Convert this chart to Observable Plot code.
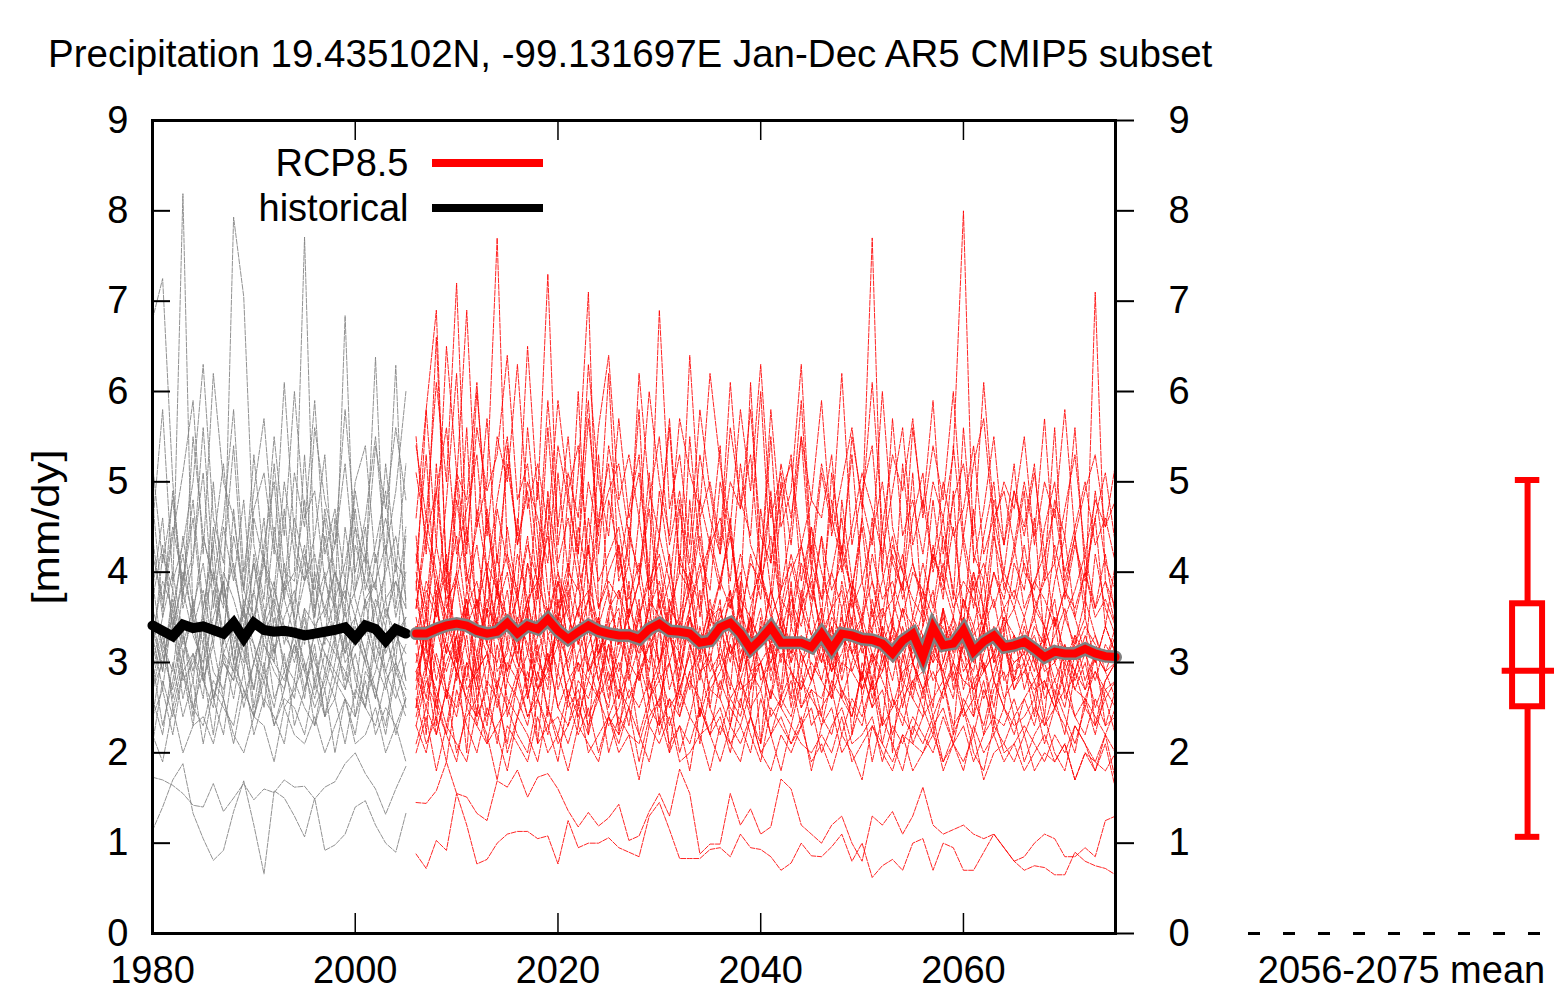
<!DOCTYPE html>
<html>
<head>
<meta charset="utf-8">
<script src="https://cdn.jsdelivr.net/npm/d3@7"></script>
<script src="https://cdn.jsdelivr.net/npm/@observablehq/plot@0.6"></script>
<style>
html, body { margin: 0; padding: 0; background: #fff; }
#wrap { position: relative; width: 1554px; height: 992px; overflow: hidden; font-family: "Liberation Sans", Arial, sans-serif; }
#main, #box { position: absolute; top: 0; }
#main { left: 0; }
#box { left: 1200px; }
#title { position: absolute; left: 48px; top: 34.5px; font-size: 38.5px; line-height: 1; white-space: nowrap; color: #000; z-index: 5; }
</style>
</head>
<body>
<div id="wrap"><div id="main"></div><div id="box"></div><div id="title"></div></div>
<script>
// ---------- text ----------
const chartTitle = "Precipitation 19.435102N, -99.131697E Jan-Dec AR5 CMIP5 subset";
const yLabel = "[mm/dy]";
const legendLabels = ["RCP8.5", "historical"];
const boxLabel = ["2056-2075 mean"];

// ---------- ticks ----------
const xTicks = [1980, 2000, 2020, 2040, 2060];
const yTicks = [0, 1, 2, 3, 4, 5, 6, 7, 8, 9];

// ---------- years ----------
const histYears = d3.range(1980, 2006);
const rcpYears = d3.range(2006, 2076);

// ---------- historical ensemble members (1980-2005) ----------
const hist01 = [6.8,7.25,5.0,3.6,4.1,5.6,4.0,3.6,7.93,7.05,4.3,3.7,5.2,4.0,3.9,4.8,3.5,4.4,3.6,6.84,3.8,4.5,3.2,4.1,6.29,3.6];
const hist02 = [3.1,4.2,3.8,8.19,3.4,2.9,4.5,3.7,3.3,3.0,4.2,3.6,3.1,3.8,4.0,7.71,3.9,3.2,4.6,3.3,3.5,4.0,6.38,3.7,3.0,4.4];
const hist03 = [4.8,3.6,4.4,5.1,5.9,4.2,6.2,5.0,4.6,3.8,5.3,4.1,5.5,4.4,6.0,4.6,4.9,3.9,4.3,5.8,4.5,4.1,5.4,4.7,5.6,4.8];
const hist04 = [2.4,3.1,2.7,3.3,2.9,3.5,2.6,3.0,2.8,3.6,2.5,3.2,2.9,2.7,3.4,3.0,2.6,3.1,2.8,3.3,2.9,2.5,3.4,2.8,3.0,2.7];
const hist05 = [3.5,2.9,3.8,3.2,3.6,4.1,3.3,3.9,3.0,3.7,3.4,4.2,3.1,3.5,3.8,3.2,4.0,3.6,3.3,3.9,3.5,3.1,3.7,3.4,4.1,3.3];
const hist06 = [2.9,3.4,2.5,3.0,3.7,2.8,3.2,2.6,3.5,3.1,2.7,3.3,3.6,2.9,2.6,3.4,3.0,2.7,3.2,2.8,3.5,3.1,2.6,3.3,2.9,3.2];
const hist07 = [4.2,3.7,4.5,3.9,4.8,3.6,4.3,5.2,4.0,3.5,4.6,4.1,3.8,5.0,4.2,3.9,4.4,5.3,3.7,4.1,4.7,3.8,4.3,4.9,3.6,4.5];
const hist08 = [2.6,2.2,3.0,2.4,2.8,2.1,2.7,2.5,2.3,2.9,2.2,2.6,2.4,2.1,2.8,2.5,2.3,2.7,2.0,2.6,2.4,2.8,2.2,2.5,2.3,2.6];
const hist09 = [3.8,4.6,3.3,4.0,3.5,4.4,3.9,3.2,4.7,3.6,4.1,3.4,4.5,3.7,3.3,4.2,3.8,4.6,3.5,3.1,4.3,3.9,3.6,4.0,4.4,3.7];
const hist10 = [3.3,2.7,3.6,2.9,3.1,2.6,3.8,3.0,2.8,3.4,3.2,2.5,3.5,3.0,2.8,3.6,2.7,3.3,3.1,2.9,2.6,3.7,3.0,2.7,3.2,3.5];
const hist11 = [5.2,4.1,4.8,3.7,5.5,4.4,3.9,4.6,5.8,4.0,4.9,5.7,4.3,3.8,5.1,4.5,5.9,4.2,4.7,3.9,5.0,5.4,4.1,4.6,4.0,5.2];
const hist12 = [2.1,2.8,2.4,2.9,2.3,3.2,2.6,2.2,3.0,2.7,2.4,2.9,2.5,3.1,2.3,2.7,3.2,2.4,2.8,2.6,2.2,2.9,2.7,2.3,3.0,2.5];
const hist13 = [3.0,3.5,4.0,3.3,2.8,3.6,4.3,3.1,3.4,2.9,3.8,3.2,3.0,4.1,3.5,2.9,3.3,3.9,3.6,3.0,3.2,3.7,3.9,3.1,3.4,2.8];
const hist14 = [4.5,5.8,3.9,4.3,5.0,6.3,4.6,4.1,5.4,3.8,4.7,5.1,4.2,6.1,4.4,3.9,5.6,4.8,4.3,5.2,4.0,4.6,5.5,4.2,4.9,6.0];
const hist15 = [3.6,3.2,2.9,3.8,3.3,3.0,3.5,3.9,3.2,3.6,3.0,3.4,3.7,3.3,3.1,3.6,3.4,2.9,3.5,3.8,3.2,3.4,3.0,3.6,3.3,3.1];
const hist16 = [2.7,3.0,3.4,2.6,3.1,2.8,2.5,3.3,2.9,2.6,3.0,2.8,2.3,2.7,3.2,2.9,2.5,2.8,3.3,2.7,3.1,2.6,2.9,3.4,2.7,2.4];
const hist17 = [1.73,1.70,1.64,1.55,1.42,1.40,1.66,1.35,1.50,1.66,1.48,1.60,1.56,1.70,1.62,1.63,1.49,1.62,1.68,1.88,2.00,1.77,1.60,1.32,1.60,1.85];
const hist18 = [1.14,1.40,1.70,1.88,1.33,1.05,0.81,0.92,1.35,1.69,1.20,0.66,1.58,1.50,1.30,1.07,1.50,0.92,0.98,1.10,1.40,1.47,1.20,1.00,0.90,1.33];
const hist19 = [2.2,1.9,2.5,2.0,2.3,2.4,2.1,2.6,2.2,2.0,2.4,2.3,1.9,2.5,2.2,2.1,2.4,2.0,2.3,2.6,2.1,2.2,2.5,2.0,2.3,1.9];
const hist20 = [3.9,3.1,3.4,4.4,3.6,3.2,5.0,3.7,4.1,3.4,3.8,4.6,3.3,3.9,3.5,5.3,3.6,4.0,3.2,4.5,3.7,3.3,4.2,3.5,3.9,3.4];
const hist21 = [2.8,3.3,2.6,3.1,2.4,3.5,2.9,2.7,3.2,2.5,3.0,3.4,2.6,2.9,3.3,2.7,3.1,2.4,3.0,3.6,2.8,2.5,3.2,2.9,2.6,3.0];
const hist22 = [3.7,4.3,3.4,3.9,4.6,3.5,4.0,3.3,4.4,3.8,3.5,4.1,3.6,4.7,3.4,3.9,4.2,3.5,4.0,3.7,4.5,3.6,3.9,4.3,3.5,4.0];
const hist23 = [3.4,2.9,3.7,3.1,3.5,2.8,3.3,3.9,3.0,3.6,3.2,2.9,3.8,3.4,3.0,3.5,2.8,3.3,3.7,3.1,3.4,3.0,3.6,2.9,3.3,3.5];
const hist24 = [3.0,2.3,2.8,3.4,2.5,2.9,2.2,3.1,2.6,3.3,2.4,2.8,3.2,2.5,2.7,3.0,2.3,2.9,2.6,3.3,2.4,3.1,2.7,2.2,2.9,2.6];
const hist25 = [4.4,3.5,4.9,3.8,4.2,5.1,3.6,4.5,3.9,4.8,3.4,4.3,5.0,3.7,4.6,4.1,3.5,4.7,4.0,3.6,4.9,4.2,3.8,5.2,4.1,3.9];
const hist26 = [2.7,3.2,3.5,2.8,3.0,3.4,2.6,3.1,2.9,3.3,2.7,3.5,3.0,2.8,3.2,2.6,3.4,3.1,2.9,2.7,3.3,3.0,2.6,3.2,3.4,2.8];
const hist27 = [3.3,3.9,3.6,4.2,3.4,3.8,3.2,4.0,3.7,3.3,4.1,3.5,3.9,3.2,3.7,4.3,3.4,3.6,4.0,3.5,3.8,4.2,3.3,3.7,3.9,3.6];
const hist28 = [2.4,2.7,2.2,2.9,2.5,2.3,2.8,2.6,2.1,2.7,2.4,3.0,2.3,2.6,2.5,2.2,2.8,2.4,2.6,2.1,2.7,2.5,2.3,2.8,2.2,2.6];

// ---------- RCP8.5 ensemble members (2006-2075) ----------
const rcp01 = [4.1,5.3,3.6,4.8,6.2,3.9,4.5,5.0,7.7,4.2, 3.8,5.6,4.4,3.5,5.1,4.0,6.0,3.7,4.6,5.2, 3.9,4.3,5.8,3.6,4.9,4.1,3.4,5.5,4.2,3.8, 5.0,4.4,3.7,6.1,4.0,3.6,4.7,5.3,3.9,4.5, 3.5,5.1,4.2,3.8,4.6,7.7,4.0,3.4,5.2,4.1, 3.7,4.8,3.9,5.4,4.3,3.6,4.4,5.0,3.8,4.2, 4.9,3.5,4.0,5.6,3.7,4.3,3.9,4.6,3.4,4.1];
const rcp02 = [5.4,4.6,6.1,5.0,7.2,4.3,5.6,4.9,5.3,6.4, 4.8,5.2,4.1,5.9,4.5,5.5,4.2,6.3,5.0,4.4, 5.7,4.6,5.1,4.0,6.9,4.7,5.3,4.3,5.8,4.9, 4.2,5.6,4.8,4.4,6.0,4.1,5.2,4.6,5.5,4.0, 5.1,4.5,6.2,4.3,4.9,5.4,4.0,5.7,4.4,4.8, 4.2,5.0,4.6,5.3,8.0,4.1,4.7,5.5,4.3,4.9, 4.5,5.2,3.9,4.8,4.4,5.6,4.0,4.6,5.1,4.3];
const rcp03 = [3.6,4.4,3.9,3.3,4.8,4.0,3.5,4.6,3.8,4.2, 3.4,4.1,3.7,4.5,3.2,3.9,5.1,7.1,3.6,4.0, 4.3,3.5,3.9,4.7,3.6,3.3,4.2,3.8,4.6,3.4, 3.9,4.4,3.6,3.2,4.1,4.8,3.7,3.5,4.3,3.8, 3.4,4.0,4.6,3.6,3.9,3.3,4.5,3.7,4.2,3.5, 4.1,3.6,4.4,3.8,3.4,4.7,3.5,4.0,3.7,4.3, 3.6,3.9,4.2,3.4,3.8,4.4,3.5,7.1,3.9,3.6];
const rcp04 = [3.2,3.8,3.5,4.1,3.0,3.6,3.9,3.3,4.2,3.4, 3.7,3.1,3.9,3.5,4.0,3.2,3.6,3.8,3.1,3.5, 4.3,3.4,3.0,3.7,3.5,3.9,3.2,3.6,4.1,3.3, 3.5,3.8,3.1,3.4,3.9,3.6,3.0,3.7,3.4,4.0, 3.2,3.6,3.8,3.1,3.5,3.9,3.3,3.0,3.6,3.4, 3.8,3.2,3.5,3.1,3.7,3.4,3.9,3.0,3.5,3.3, 3.1,3.6,3.4,3.0,3.5,3.2,3.7,3.3,3.0,3.4];
const rcp05 = [3.5,2.9,3.6,3.1,3.4,2.8,3.7,3.2,3.0,3.5, 3.3,2.7,3.8,3.0,3.4,3.6,2.9,3.2,3.5,2.8, 3.1,3.6,3.3,2.9,3.7,3.0,3.4,3.2,2.8,3.5, 3.6,3.1,3.3,2.7,3.4,3.0,3.5,3.2,2.9,3.6, 3.0,3.4,2.8,3.3,3.5,3.1,2.9,3.4,3.2,2.7, 3.3,3.0,3.6,2.8,3.2,3.4,2.9,3.1,3.5,2.8, 3.2,2.9,3.4,3.0,2.7,3.3,3.1,2.8,3.2,3.0];
const rcp06 = [2.8,3.4,3.0,2.6,3.3,3.7,2.9,3.1,2.7,3.5, 3.0,2.8,3.3,3.6,2.7,3.1,3.4,2.9,3.2,2.6, 3.5,3.0,2.8,3.2,3.4,2.7,3.1,3.5,2.9,3.0, 2.7,3.3,3.6,2.9,3.0,3.2,2.6,3.4,3.1,2.8, 3.3,2.9,3.1,3.5,2.7,3.0,3.2,2.8,3.4,3.0, 2.6,3.2,2.9,3.3,3.0,2.7,3.1,3.4,2.8,3.0, 3.1,2.8,3.0,2.6,3.2,2.9,2.7,3.1,2.9,2.6];
const rcp07 = [2.5,3.6,2.3,3.9,2.8,3.3,2.4,4.0,2.9,3.1, 3.8,2.6,3.2,2.4,3.7,2.9,3.4,2.2,3.5,3.0, 2.6,3.9,2.8,3.3,2.3,3.6,2.7,3.1,3.8,2.5, 3.2,2.7,3.9,2.4,3.5,2.8,3.3,2.6,3.7,2.9, 2.4,3.4,2.9,3.8,2.6,3.1,2.3,3.5,2.8,3.3, 3.0,2.5,3.6,2.7,3.2,2.4,3.4,2.8,2.5,3.3, 2.7,3.1,2.4,3.5,2.6,2.9,3.2,2.3,2.8,3.0];
const rcp08 = [2.9,2.5,3.1,2.7,2.4,3.0,2.8,2.3,3.2,2.6, 2.4,2.9,2.6,3.1,2.5,2.8,3.0,2.4,2.7,3.2, 2.8,2.3,3.0,2.6,2.9,2.5,2.7,3.1,2.4,2.8, 3.0,2.6,2.4,2.9,2.7,3.2,2.5,2.8,2.3,2.7, 2.6,3.0,2.7,2.4,2.9,2.5,3.1,2.6,2.3,2.8, 2.9,2.4,2.7,3.0,2.5,2.8,2.2,2.7,2.9,2.4, 2.6,2.3,2.8,2.5,2.9,2.4,2.6,2.2,2.7,2.5];
const rcp09 = [2.3,2.8,2.5,2.2,2.9,2.6,2.4,2.7,2.1,2.8, 2.6,2.3,2.9,2.5,2.2,2.7,2.4,2.8,2.6,2.3, 2.5,2.9,2.2,2.6,2.8,2.3,2.7,2.4,2.9,2.5, 2.2,2.6,2.8,2.4,2.1,2.7,2.5,2.3,2.8,2.6, 2.4,2.2,2.7,2.5,2.3,2.8,2.1,2.6,2.4,2.2, 2.7,2.3,2.5,2.1,2.6,2.4,2.8,2.2,2.5,2.3, 2.4,2.6,2.1,2.5,2.3,2.0,2.6,2.4,2.2,2.5];
const rcp10 = [2.6,2.1,2.4,1.9,2.7,2.3,2.0,2.5,2.2,1.8, 2.4,2.7,2.1,2.3,1.9,2.6,2.2,2.5,2.0,2.4, 2.2,2.5,1.9,2.4,2.6,2.1,2.3,1.8,2.5,2.2, 2.4,2.0,2.6,2.2,1.9,2.5,2.3,2.1,2.4,1.8, 2.3,2.5,2.0,2.2,2.6,1.9,2.4,2.1,1.8,2.3, 2.1,2.4,1.9,2.2,2.5,2.0,1.8,2.3,2.1,2.4, 1.9,2.2,2.4,2.0,1.8,2.3,2.1,1.9,2.2,1.7];
const rcp11 = [2.0,2.4,1.8,2.3,2.1,1.9,2.5,2.2,1.7,2.3, 2.1,1.9,2.4,2.0,2.2,1.8,2.3,2.1,1.9,2.4, 2.0,2.2,1.7,2.3,2.1,2.4,1.9,2.0,2.2,1.8, 2.3,2.1,1.9,2.4,2.0,1.8,2.2,2.0,2.3,1.9, 2.1,1.8,2.2,2.0,1.7,2.3,2.1,1.9,2.2,1.8, 2.0,2.3,1.8,2.1,1.9,2.2,1.7,2.0,2.1,1.9, 2.2,1.8,2.0,1.9,2.1,1.7,2.0,1.8,2.1,1.6];
const rcp12 = [4.4,3.1,5.2,3.6,4.0,5.6,3.3,4.7,3.9,3.2, 4.6,3.5,5.0,3.8,3.3,4.9,4.1,3.4,5.3,3.7, 3.2,4.5,3.9,5.1,3.6,4.2,3.0,4.8,3.5,4.3, 5.4,3.6,4.0,3.3,4.7,3.8,5.0,3.4,4.1,3.7, 4.4,3.1,4.8,3.9,3.5,4.6,3.2,4.2,3.8,5.1, 3.4,4.3,3.7,4.9,3.2,4.0,3.6,4.5,3.3,4.1, 3.8,4.6,3.2,3.9,4.4,3.5,3.1,4.2,3.6,3.3];
const rcp13 = [3.8,5.8,6.9,3.9,5.1,4.2,6.0,4.6,3.7,5.4, 4.3,4.9,3.8,5.6,4.1,4.6,3.9,5.0,4.4,6.2, 4.0,4.7,5.3,3.8,4.4,5.7,4.1,3.9,4.8,4.3, 4.6,3.9,5.2,4.3,4.0,5.5,3.8,4.5,5.9,4.1, 3.7,4.8,4.2,5.3,3.9,4.4,5.0,4.1,3.8,4.6, 5.1,4.0,4.6,3.7,5.6,4.2,3.9,4.8,4.3,5.2, 4.0,3.8,4.5,5.0,3.9,4.4,3.7,4.9,4.1,3.8];
const rcp14 = [3.0,3.5,2.8,3.3,3.9,3.1,2.7,3.6,3.4,2.9, 3.2,3.7,3.0,2.8,3.5,3.3,3.9,2.9,3.1,3.4, 3.6,2.8,3.2,3.0,3.8,3.3,2.9,3.5,3.1,3.7, 3.0,3.4,2.8,3.2,3.6,2.9,3.3,3.8,3.0,3.2, 3.5,2.9,3.3,3.1,2.8,3.6,3.0,3.4,2.7,3.2, 3.0,3.5,2.8,3.3,3.1,2.9,3.6,3.0,3.2,2.8, 3.4,3.0,2.7,3.2,3.0,3.3,2.8,3.1,2.9,3.2];
const rcp15 = [3.4,2.2,3.8,2.6,3.1,2.0,3.5,2.7,3.9,2.4, 2.8,3.6,2.1,3.3,2.9,3.8,2.3,3.0,2.6,3.5, 2.2,3.1,3.7,2.5,3.4,2.0,2.9,3.6,2.4,3.2, 3.7,2.3,3.0,3.5,2.1,3.3,2.7,3.9,2.5,2.8, 3.2,2.6,3.6,2.2,3.0,2.7,3.4,2.0,3.1,2.6, 2.4,3.3,2.8,2.2,3.5,2.6,3.0,2.3,3.2,2.7, 3.0,2.4,3.3,2.6,2.2,2.9,2.5,3.1,2.3,2.7];
const rcp16 = [4.6,5.8,4.3,6.5,5.1,4.8,6.1,4.4,5.5,5.0, 6.3,4.7,5.2,4.5,5.9,4.9,5.4,4.2,5.6,6.4, 4.8,5.3,4.6,6.0,5.0,4.4,5.7,5.1,4.7,6.2, 5.2,4.5,5.8,4.9,6.3,4.6,5.1,4.3,5.5,4.8, 5.9,4.4,5.0,5.6,4.7,6.1,4.5,5.3,4.9,5.7, 4.6,5.4,4.8,6.0,4.4,5.2,5.7,4.5,5.0,4.7, 5.5,4.3,5.0,4.6,5.8,4.4,4.9,5.3,4.5,4.8];
const rcp17 = [1.45,1.44,1.58,1.9,1.55,1.51,1.33,1.25,1.69,1.62, 1.81,1.51,1.73,1.77,1.6,1.36,1.18,1.34,1.19,1.28, 1.43,1.03,1.08,1.35,1.55,1.3,1.82,1.55,0.88,0.99, 0.99,1.55,1.2,1.38,1.1,1.18,1.71,1.6,1.2,1.1, 1.0,1.2,1.3,1.0,0.8,1.3,1.2,1.35,1.1,1.3, 1.62,1.2,1.1,1.15,1.2,1.1,1.05,1.1,0.95,0.8, 0.85,1.0,1.1,1.05,0.85,0.85,0.95,0.85,1.25,1.3];
const rcp18 = [0.88,0.72,1.03,0.92,1.55,1.2,0.77,0.82,1.0,1.1, 1.13,1.13,1.05,1.08,0.77,1.25,0.95,1.0,1.0,1.06, 0.95,0.9,0.85,1.3,1.45,1.15,0.83,0.83,0.83,0.93, 0.95,0.85,1.1,0.95,0.93,0.85,0.7,0.78,1.0,0.86, 0.85,0.96,1.1,0.8,1.0,0.62,0.75,0.82,0.7,1.0, 1.05,0.7,1.0,0.95,0.7,0.7,0.9,1.1,0.95,0.8, 0.7,0.75,0.73,0.65,0.65,0.9,0.8,0.75,0.72,0.65];
const rcp19 = [4.2,3.6,4.9,3.8,4.4,3.5,4.7,4.0,3.4,4.5, 3.7,4.3,3.9,4.8,3.6,4.1,3.5,4.6,3.9,4.2, 4.5,3.7,4.1,3.4,4.4,3.9,4.8,3.6,4.0,4.3, 3.8,4.6,3.5,4.1,3.9,4.4,3.6,4.2,3.7,4.5, 4.0,3.6,4.3,3.8,4.5,3.5,3.9,4.4,3.7,4.1, 3.6,4.2,3.9,3.5,4.4,3.8,4.1,3.6,4.0,3.7, 4.3,3.6,3.9,4.1,3.5,3.8,4.2,3.6,3.9,3.4];
const rcp20 = [3.7,3.2,3.9,3.5,3.0,3.8,3.4,3.1,3.6,4.0, 3.3,3.7,3.1,3.5,3.9,3.2,3.6,3.0,3.4,3.8, 3.2,3.5,3.9,3.3,3.0,3.6,3.4,3.8,3.1,3.5, 3.3,3.7,3.0,3.5,3.2,3.8,3.4,3.1,3.6,3.3, 3.0,3.5,3.3,3.7,3.1,3.4,3.6,3.2,3.0,3.5, 3.3,3.1,3.6,3.2,3.5,3.0,3.4,3.7,3.1,3.3, 3.0,3.4,3.2,3.5,3.1,2.9,3.3,3.0,3.4,3.1];
const rcp21 = [5.5,4.2,6.6,4.0,5.0,6.9,4.5,5.7,4.1,5.2, 4.4,6.5,4.8,7.3,4.3,5.1,4.6,5.9,4.2,5.4, 4.7,4.1,6.2,4.9,4.4,5.6,4.0,6.4,4.6,5.0, 4.3,6.1,4.7,5.3,4.0,5.8,4.5,4.9,6.3,4.2, 5.2,4.6,4.1,5.5,4.8,4.3,6.0,4.5,4.0,5.6, 4.7,5.9,4.2,4.8,5.2,4.4,6.1,4.6,4.9,4.3, 5.0,4.4,5.7,4.1,4.7,5.3,4.2,4.8,4.5,5.2];
const rcp22 = [2.5,3.0,2.7,2.3,2.9,2.6,3.1,2.4,2.8,2.5, 2.9,2.4,2.7,3.1,2.5,2.3,2.8,2.6,3.0,2.4, 2.7,2.5,2.9,2.3,2.6,3.0,2.4,2.8,2.6,2.2, 2.8,2.5,2.3,2.7,3.0,2.4,2.6,2.9,2.5,2.7, 2.3,2.8,2.6,2.4,2.9,2.5,2.7,2.2,2.6,2.8, 2.5,2.2,2.7,2.9,2.4,2.6,2.3,2.8,2.5,2.2, 2.6,2.8,2.3,2.5,2.7,2.4,2.2,2.6,2.3,2.4];
const rcp23 = [5.1,4.4,4.9,5.6,4.2,4.7,5.3,4.0,4.8,5.5, 4.3,5.0,4.6,4.1,5.4,4.8,4.2,5.7,4.5,4.9, 5.2,4.4,4.0,4.8,5.5,4.3,4.9,4.1,5.3,4.6, 4.2,5.0,4.7,5.8,4.4,4.1,4.9,5.2,4.3,4.8, 4.6,5.3,4.0,4.5,5.1,4.7,4.2,4.9,5.6,4.3, 4.8,4.1,5.0,4.4,4.7,5.4,4.2,4.6,4.0,4.9, 4.4,5.1,4.2,4.7,4.0,4.5,5.0,4.3,4.6,4.1];
const rcp24 = [3.1,2.6,3.4,2.9,3.3,2.5,3.0,3.6,2.7,3.2, 2.9,3.5,2.7,3.0,3.3,2.6,3.1,3.4,2.8,2.5, 3.3,2.9,3.5,2.7,3.0,3.4,2.6,3.2,2.9,3.1, 2.6,3.2,2.9,3.5,2.8,3.0,3.3,2.5,3.1,2.8, 3.1,2.7,3.4,2.9,3.2,2.6,3.0,3.3,2.8,2.6, 3.2,2.8,3.0,3.4,2.7,3.1,2.6,2.9,3.3,2.7, 2.9,3.2,2.6,2.8,3.1,2.7,3.0,2.5,2.8,3.0];
const rcp25 = [3.3,3.9,3.6,3.1,4.0,3.4,3.7,3.2,3.8,3.5, 3.1,3.6,4.1,3.3,3.5,3.9,3.2,3.7,3.4,3.0, 3.8,3.4,3.1,3.6,3.9,3.3,3.5,4.0,3.2,3.6, 3.4,3.0,3.7,3.5,3.2,3.8,3.4,3.1,3.6,3.9, 3.3,3.6,3.2,3.8,3.4,3.0,3.5,3.7,3.3,3.1, 3.6,3.2,3.4,3.0,3.7,3.3,3.5,3.1,3.4,3.6, 3.2,3.5,3.0,3.3,3.6,3.1,3.4,3.2,3.0,3.3];
const rcp26 = [2.7,3.4,2.5,3.2,2.9,3.6,2.6,3.0,3.5,2.8, 3.3,2.6,3.1,2.7,3.5,2.9,2.5,3.4,2.8,3.2, 2.6,3.0,3.6,2.8,2.5,3.3,3.1,2.7,3.4,2.9, 3.1,2.8,2.5,3.3,3.0,2.6,3.5,2.9,2.7,3.2, 2.8,3.3,2.6,3.0,3.4,2.7,2.9,3.2,2.5,3.0, 2.7,3.1,2.9,2.6,3.3,2.8,3.0,2.5,3.2,2.9, 3.0,2.6,3.2,2.8,2.5,3.1,2.7,2.9,2.6,2.8];
const rcp27 = [2.4,2.9,2.2,2.7,2.5,3.0,2.3,2.8,2.6,2.1, 2.8,2.4,2.6,2.2,2.9,2.5,2.7,2.3,2.6,2.9, 2.3,2.7,2.5,2.8,2.2,2.6,2.4,2.9,2.1,2.7, 2.6,2.3,2.8,2.5,2.7,2.2,2.6,2.4,2.9,2.3, 2.5,2.7,2.2,2.6,2.4,2.8,2.3,2.5,2.7,2.1, 2.4,2.6,2.8,2.3,2.5,2.2,2.7,2.4,2.3,2.6, 2.2,2.5,2.3,2.7,2.4,2.1,2.5,2.3,2.6,2.2];
const rcp28 = [3.6,4.6,4.0,3.4,5.0,3.8,4.3,3.5,4.7,4.1, 3.7,4.4,3.3,4.9,4.0,3.6,4.5,3.9,3.4,4.8, 4.2,3.5,4.6,3.8,4.1,3.3,4.7,4.0,3.6,4.4, 3.9,4.5,3.4,4.2,3.7,4.9,3.5,4.0,4.3,3.6, 4.4,3.8,4.1,3.4,4.6,3.9,3.5,4.3,4.0,3.7, 3.5,4.2,3.8,4.5,3.6,4.0,3.3,4.4,3.9,3.6, 4.1,3.7,3.4,4.3,3.8,3.5,4.0,3.6,4.2,3.5];
const rcp29 = [3.4,3.0,3.6,3.2,2.9,3.5,3.1,3.7,3.3,2.9, 3.5,3.2,2.8,3.6,3.3,3.0,3.4,3.7,3.1,3.3, 2.9,3.4,3.2,3.6,3.0,3.3,2.8,3.5,3.2,3.0, 3.6,3.1,3.3,2.9,3.4,3.2,3.6,3.0,3.3,3.1, 3.2,2.9,3.5,3.1,3.3,2.8,3.4,3.1,3.6,3.0, 3.3,3.0,3.2,3.5,2.9,3.1,3.4,2.8,3.2,3.0, 3.1,3.3,2.9,3.0,3.2,2.8,3.1,3.3,2.9,3.0];
const rcp30 = [2.1,2.5,2.2,2.7,2.0,2.4,2.6,2.1,2.3,2.5, 2.2,2.0,2.6,2.3,2.4,2.1,2.5,2.2,2.7,2.0, 2.4,2.2,2.1,2.5,2.3,2.6,2.0,2.4,2.2,2.3, 2.5,2.1,2.3,2.0,2.6,2.2,2.4,2.1,2.3,2.5, 2.0,2.3,2.5,2.1,2.2,2.4,1.9,2.3,2.1,2.4, 2.2,2.0,2.4,2.1,2.3,1.9,2.2,2.4,2.0,2.1, 2.3,2.1,1.9,2.2,2.0,2.3,2.1,1.8,2.2,2.0];
const rcp31 = [4.0,3.5,4.3,3.7,3.9,4.5,3.6,4.1,3.8,3.4, 4.2,3.7,3.9,4.4,3.5,4.0,3.8,4.3,3.6,3.9, 3.7,4.1,3.5,3.9,4.2,3.6,4.0,3.8,4.4,3.5, 3.9,3.6,4.2,3.7,4.0,3.5,3.8,4.1,3.6,4.3, 3.7,4.0,3.6,3.9,3.4,4.2,3.7,3.9,3.5,4.0, 3.8,3.5,4.1,3.6,3.9,3.7,3.4,4.0,3.6,3.8, 3.5,3.9,3.7,3.4,3.8,3.6,4.0,3.5,3.7,3.4];
const rcp32 = [2.9,3.2,2.6,3.0,3.3,2.7,2.9,3.1,2.5,3.0, 2.8,3.1,2.7,2.9,3.2,2.6,3.0,2.8,3.3,2.7, 3.0,2.6,2.9,3.2,2.8,3.0,2.5,2.9,3.1,2.7, 2.9,3.2,2.7,2.8,3.0,2.6,3.1,2.9,2.7,3.0, 2.8,2.6,3.0,2.9,2.7,3.1,2.8,2.5,2.9,3.0, 2.7,2.9,2.6,3.0,2.8,2.7,2.9,3.1,2.6,2.8, 2.9,2.7,2.8,2.5,3.0,2.7,2.6,2.9,2.7,2.8];
const rcp33 = [3.9,2.9,3.6,4.2,3.1,3.7,2.8,4.0,3.3,3.8, 3.0,4.1,3.4,2.9,3.9,3.5,3.2,4.3,3.0,3.6, 3.8,3.1,3.5,4.0,2.9,3.7,3.3,3.9,3.0,3.5, 3.2,3.8,2.9,3.6,4.1,3.1,3.4,3.0,3.8,3.3, 3.6,3.0,3.9,3.3,2.8,3.7,3.2,3.5,3.9,3.0, 3.4,3.8,3.0,3.5,3.2,3.9,2.9,3.3,3.6,3.1, 3.5,3.0,3.3,3.7,2.9,3.2,3.5,3.0,3.4,3.1];
const rcp34 = [2.3,2.0,2.6,2.2,1.9,2.5,2.3,2.1,2.7,2.0, 2.4,2.2,1.9,2.5,2.1,2.3,2.6,2.0,2.2,2.4, 2.1,2.5,2.2,1.9,2.4,2.0,2.3,2.1,2.5,2.2, 1.9,2.3,2.1,2.4,2.0,2.2,1.8,2.3,2.1,2.0, 2.2,2.0,2.4,1.9,2.1,2.3,2.0,1.8,2.2,2.1, 2.0,2.2,1.9,2.1,1.8,2.3,2.0,2.2,1.9,2.1, 1.8,2.0,2.2,1.9,2.1,1.7,2.0,1.9,1.8,2.0];

// ---------- ensemble means ----------
const histMean = [3.41,3.35,3.29,3.42,3.38,3.40,3.36,3.32,3.44,3.27,3.44,3.36,3.34,3.35,3.33,3.30,3.32,3.34,3.36,3.39,3.27,3.41,3.37,3.24,3.37,3.32];
const rcpMean = [3.32,3.32,3.37,3.41,3.43,3.41,3.35,3.32,3.34,3.44, 3.32,3.41,3.37,3.48,3.35,3.26,3.34,3.41,3.35,3.32, 3.30,3.30,3.26,3.37,3.43,3.35,3.34,3.32,3.22,3.24, 3.39,3.44,3.32,3.15,3.26,3.39,3.22,3.22,3.22,3.17, 3.32,3.15,3.32,3.30,3.26,3.25,3.21,3.10,3.24,3.32, 3.06,3.39,3.19,3.21,3.36,3.12,3.23,3.30,3.17,3.19, 3.23,3.15,3.06,3.12,3.10,3.10,3.15,3.10,3.07,3.06];

// ---------- 2056-2075 mean spread (box plot) ----------
const boxStats = [{min: 1.07, q1: 2.51, median: 2.91, q3: 3.65, max: 5.02}];

// ---------- build tables ----------
const histMembers = [hist01,hist02,hist03,hist04,hist05,hist06,hist07,hist08,hist09,hist10,hist11,hist12,hist13,hist14,hist15,hist16,hist17,hist18,hist19,hist20,hist21,hist22,hist23,hist24,hist25,hist26,hist27,hist28];
const rcpMembers = [rcp01,rcp02,rcp03,rcp04,rcp05,rcp06,rcp07,rcp08,rcp09,rcp10,rcp11,rcp12,rcp13,rcp14,rcp15,rcp16,rcp17,rcp18,rcp19,rcp20,rcp21,rcp22,rcp23,rcp24,rcp25,rcp26,rcp27,rcp28,rcp29,rcp30,rcp31,rcp32,rcp33,rcp34];
const toRows = (members, years) => members.flatMap((vals, m) =>
  vals.slice(0, years.length).map((v, i) => ({member: m, year: years[i], value: v})));
const histRows = toRows(histMembers, histYears);
const rcpRows = toRows(rcpMembers, rcpYears);
const histMeanRows = toRows([histMean], histYears);
const rcpMeanRows = toRows([rcpMean], rcpYears);

// ---------- style ----------
const FONT = "Liberation Sans, Arial, Helvetica, sans-serif";
const FS = 38;
const RED = "#ff0000";
const GREY = "#808080";

document.getElementById("title").textContent = chartTitle;

// ---------- main chart ----------
const W = 1200, H = 992, ML = 152, MR = 85, MT = 120, MB = 59;
const innerW = W - ML - MR, innerH = H - MT - MB;

const main = Plot.plot({
  width: W, height: H,
  marginLeft: ML, marginRight: MR, marginTop: MT, marginBottom: MB,
  style: {fontFamily: FONT, fontSize: FS + "px", background: "transparent", color: "black", overflow: "visible"},
  x: {domain: [1980, 2075], label: null},
  y: {domain: [0, 9], label: null},
  marks: [
    Plot.line(histRows, {x: "year", y: "value", z: "member", stroke: GREY, strokeWidth: 0.9, strokeOpacity: 0.95, strokeDasharray: "5,1.5"}),
    Plot.line(rcpRows, {x: "year", y: "value", z: "member", stroke: RED, strokeWidth: 0.9, strokeOpacity: 0.95, strokeDasharray: "5,1.5"}),
    Plot.line(histMeanRows, {x: "year", y: "value", stroke: "black", strokeWidth: 10, strokeLinejoin: "miter", strokeMiterlimit: 3}),
    Plot.line(rcpMeanRows, {x: "year", y: "value", stroke: GREY, strokeWidth: 13, strokeLinejoin: "miter", strokeMiterlimit: 3}),
    Plot.line(rcpMeanRows, {x: "year", y: "value", stroke: RED, strokeWidth: 8, strokeLinejoin: "miter", strokeMiterlimit: 3}),
    Plot.frame({stroke: "black", strokeWidth: 3}),
    // inward ticks
    Plot.tickY(yTicks, {y: d => d, stroke: "black", strokeWidth: 2, insetRight: innerW - 18}),
    Plot.tickX(xTicks, {x: d => d, stroke: "black", strokeWidth: 1.5, insetTop: innerH - 20}),
    Plot.tickX(xTicks, {x: d => d, stroke: "black", strokeWidth: 1.5, insetBottom: innerH - 20}),
    // axes
    Plot.axisY({anchor: "left", ticks: yTicks, tickSize: 0, tickPadding: 24, fontSize: FS, tickFormat: d => String(d), label: null}),
    Plot.axisY({anchor: "right", ticks: yTicks, tickSize: 18, tickPadding: 35, fontSize: FS, tickFormat: d => String(d), label: null, strokeWidth: 2}),
    Plot.axisX({anchor: "bottom", ticks: xTicks, tickSize: 0, tickPadding: 23, fontSize: FS, tickFormat: d => String(d), label: null}),
    // y label
    Plot.text([yLabel], {text: d => d, frameAnchor: "left", dx: -106, rotate: -90, fontSize: 39, textAnchor: "middle", lineAnchor: "middle"}),
    // legend labels
    Plot.text([legendLabels[0]], {text: d => d, frameAnchor: "top-left", dx: 256, dy: 43, textAnchor: "end", lineAnchor: "middle", fontSize: FS}),
    Plot.text([legendLabels[1]], {text: d => d, frameAnchor: "top-left", dx: 256, dy: 88, textAnchor: "end", lineAnchor: "middle", fontSize: FS})
  ]
});
const svgMain = d3.select(main);
// stretch the rotated unit label to the reference length
svgMain.selectAll("text").filter(function () { return this.textContent === yLabel; })
  .attr("textLength", 155).attr("lengthAdjust", "spacingAndGlyphs");
// legend swatches
const legendColors = [RED, "black"];
legendColors.forEach((c, i) => {
  svgMain.append("line")
    .attr("x1", ML + 280).attr("x2", ML + 391)
    .attr("y1", MT + 43 + i * 45).attr("y2", MT + 43 + i * 45)
    .attr("stroke", c).attr("stroke-width", 8);
});
document.getElementById("main").appendChild(main);

// ---------- box plot panel ----------
const BW = 354, BML = 48;
const boxCenter = 0.912, boxHalf = 0.049, capHalf = 0.04, medLeft = 0.083;
const box = Plot.plot({
  width: BW, height: H,
  marginLeft: BML, marginRight: 0, marginTop: MT, marginBottom: MB,
  style: {fontFamily: FONT, fontSize: FS + "px", background: "transparent", color: "black", overflow: "visible"},
  x: {domain: [0, 1], axis: null},
  y: {domain: [0, 9], axis: null},
  marks: [
    Plot.ruleY([0], {stroke: "black", strokeWidth: 3, strokeDasharray: "12,23"}),
    Plot.ruleX(boxStats, {x: () => boxCenter, y1: "min", y2: "max", stroke: RED, strokeWidth: 6}),
    Plot.rect(boxStats, {x1: () => boxCenter - boxHalf, x2: () => boxCenter + boxHalf, y1: "q1", y2: "q3", fill: "white", stroke: RED, strokeWidth: 6}),
    Plot.ruleY(boxStats, {y: "min", x1: () => boxCenter - capHalf, x2: () => boxCenter + capHalf, stroke: RED, strokeWidth: 6}),
    Plot.ruleY(boxStats, {y: "max", x1: () => boxCenter - capHalf, x2: () => boxCenter + capHalf, stroke: RED, strokeWidth: 6}),
    Plot.ruleY(boxStats, {y: "median", x1: () => boxCenter - medLeft, x2: () => 1.02, stroke: RED, strokeWidth: 6}),
    Plot.text(boxLabel, {text: d => d, frameAnchor: "bottom", dy: 23, lineAnchor: "top", fontSize: FS})
  ]
});
document.getElementById("box").appendChild(box);
</script>
</body>
</html>
